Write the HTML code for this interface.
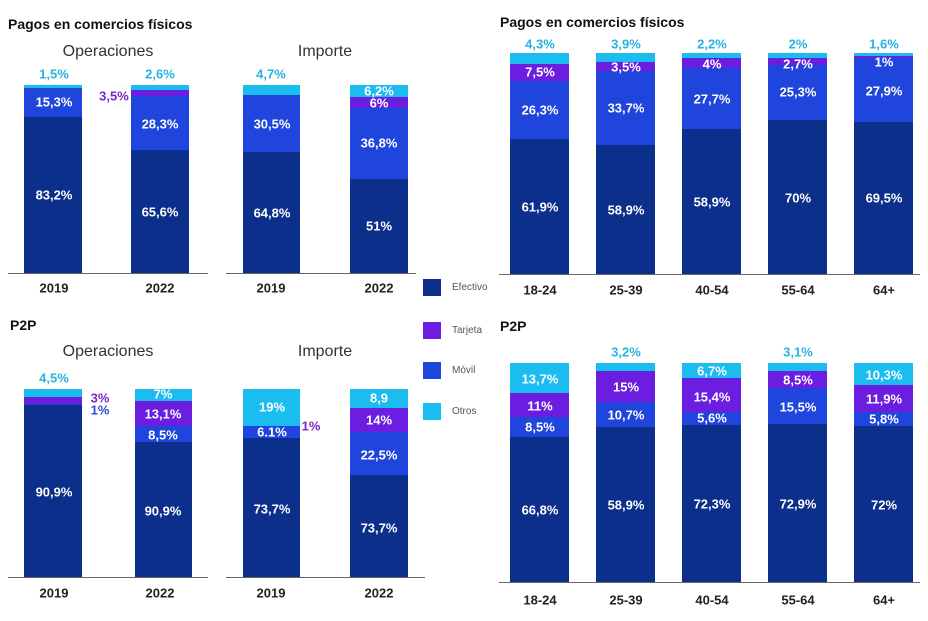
<!DOCTYPE html>
<html><head><meta charset="utf-8"><style>
body{margin:0;width:928px;height:621px;background:#fff;position:relative;overflow:hidden;font-family:"Liberation Sans",Arial,sans-serif}
div{position:absolute}
.d{background:#0b2f8a}.m{background:#1f45dc}.p{background:#6b1de0}.c{background:#1bbcef}
.l{transform:translate(-50%,-50%);font-weight:bold;font-size:13px;color:#fff;white-space:nowrap}
.cy{color:#27b3e3}.pu{color:#7a28c8}.mb{color:#2a4ad8}
.t{font-weight:bold;font-size:14px;color:#111}
.s{transform:translate(-50%,-50%);font-size:16px;color:#333}
.x{transform:translate(-50%,-50%);font-weight:bold;font-size:13px;color:#222}
.ax{height:1px;background:#666}
.lg{width:18px;height:17px;left:423px}
.lt{left:452px;font-size:10px;color:#555}
</style></head><body>
<div class="t" style="left:8px;top:16px">Pagos en comercios físicos</div>
<div class="s" style="left:108px;top:52px">Operaciones</div>
<div class="s" style="left:325px;top:52px">Importe</div>
<!-- TL Op 2019 -->
<div class="c" style="left:24px;width:58px;top:85px;height:3px"></div>
<div class="m" style="left:24px;width:58px;top:88px;height:29px"></div>
<div class="d" style="left:24px;width:58px;top:117px;height:156px"></div>
<!-- TL Op 2022 -->
<div class="c" style="left:131px;width:58px;top:85px;height:5px"></div>
<div class="p" style="left:131px;width:58px;top:90px;height:6px"></div>
<div class="m" style="left:131px;width:58px;top:96px;height:54px"></div>
<div class="d" style="left:131px;width:58px;top:150px;height:123px"></div>
<!-- Imp 2019 -->
<div class="c" style="left:243px;width:57px;top:85px;height:10px"></div>
<div class="m" style="left:243px;width:57px;top:95px;height:57px"></div>
<div class="d" style="left:243px;width:57px;top:152px;height:121px"></div>
<!-- Imp 2022 -->
<div class="c" style="left:350px;width:58px;top:85px;height:12px"></div>
<div class="p" style="left:350px;width:58px;top:97px;height:11px"></div>
<div class="m" style="left:350px;width:58px;top:108px;height:71px"></div>
<div class="d" style="left:350px;width:58px;top:179px;height:94px"></div>
<div class="ax" style="left:8px;width:200px;top:273px"></div>
<div class="ax" style="left:226px;width:190px;top:273px"></div>
<div class="l cy" style="left:54px;top:74px">1,5%</div>
<div class="l cy" style="left:160px;top:74px">2,6%</div>
<div class="l pu" style="left:114px;top:96px">3,5%</div>
<div class="l" style="left:54px;top:102px">15,3%</div>
<div class="l" style="left:54px;top:195px">83,2%</div>
<div class="l" style="left:160px;top:124px">28,3%</div>
<div class="l" style="left:160px;top:212px">65,6%</div>
<div class="l cy" style="left:271px;top:74px">4,7%</div>
<div class="l" style="left:272px;top:124px">30,5%</div>
<div class="l" style="left:272px;top:213px">64,8%</div>
<div class="l" style="left:379px;top:91px">6,2%</div>
<div class="l" style="left:379px;top:103px">6%</div>
<div class="l" style="left:379px;top:143px">36,8%</div>
<div class="l" style="left:379px;top:226px">51%</div>
<div class="x" style="left:54px;top:288px">2019</div>
<div class="x" style="left:160px;top:288px">2022</div>
<div class="x" style="left:271px;top:288px">2019</div>
<div class="x" style="left:379px;top:288px">2022</div>
<!-- legend -->
<div class="lg d" style="top:279px"></div><div class="lt" style="top:282px">Efectivo</div>
<div class="lg p" style="top:322px"></div><div class="lt" style="top:325px">Tarjeta</div>
<div class="lg m" style="top:362px"></div><div class="lt" style="top:365px">Móvil</div>
<div class="lg c" style="top:403px"></div><div class="lt" style="top:406px">Otros</div>
<!-- TR -->
<div class="t" style="left:500px;top:14px">Pagos en comercios físicos</div>
<div class="c" style="left:510px;width:59px;top:53px;height:11px"></div>
<div class="p" style="left:510px;width:59px;top:64px;height:17px"></div>
<div class="m" style="left:510px;width:59px;top:81px;height:58px"></div>
<div class="d" style="left:510px;width:59px;top:139px;height:135px"></div>
<div class="c" style="left:596px;width:59px;top:53px;height:9px"></div>
<div class="p" style="left:596px;width:59px;top:62px;height:9px"></div>
<div class="m" style="left:596px;width:59px;top:71px;height:74px"></div>
<div class="d" style="left:596px;width:59px;top:145px;height:129px"></div>
<div class="c" style="left:682px;width:59px;top:53px;height:5px"></div>
<div class="p" style="left:682px;width:59px;top:58px;height:10px"></div>
<div class="m" style="left:682px;width:59px;top:68px;height:61px"></div>
<div class="d" style="left:682px;width:59px;top:129px;height:145px"></div>
<div class="c" style="left:768px;width:59px;top:53px;height:5px"></div>
<div class="p" style="left:768px;width:59px;top:58px;height:7px"></div>
<div class="m" style="left:768px;width:59px;top:65px;height:55px"></div>
<div class="d" style="left:768px;width:59px;top:120px;height:154px"></div>
<div class="c" style="left:854px;width:59px;top:53px;height:3px"></div>
<div class="p" style="left:854px;width:59px;top:56px;height:2px"></div>
<div class="m" style="left:854px;width:59px;top:58px;height:64px"></div>
<div class="d" style="left:854px;width:59px;top:122px;height:152px"></div>
<div class="ax" style="left:499px;width:421px;top:274px"></div>
<div class="l cy" style="left:540px;top:44px">4,3%</div>
<div class="l cy" style="left:626px;top:44px">3,9%</div>
<div class="l cy" style="left:712px;top:44px">2,2%</div>
<div class="l cy" style="left:798px;top:44px">2%</div>
<div class="l cy" style="left:884px;top:44px">1,6%</div>
<div class="l" style="left:540px;top:72px">7,5%</div>
<div class="l" style="left:540px;top:110px">26,3%</div>
<div class="l" style="left:540px;top:207px">61,9%</div>
<div class="l" style="left:626px;top:67px">3,5%</div>
<div class="l" style="left:626px;top:108px">33,7%</div>
<div class="l" style="left:626px;top:210px">58,9%</div>
<div class="l" style="left:712px;top:64px">4%</div>
<div class="l" style="left:712px;top:99px">27,7%</div>
<div class="l" style="left:712px;top:202px">58,9%</div>
<div class="l" style="left:798px;top:64px">2,7%</div>
<div class="l" style="left:798px;top:92px">25,3%</div>
<div class="l" style="left:798px;top:198px">70%</div>
<div class="l" style="left:884px;top:62px">1%</div>
<div class="l" style="left:884px;top:91px">27,9%</div>
<div class="l" style="left:884px;top:198px">69,5%</div>
<div class="x" style="left:540px;top:290px">18-24</div>
<div class="x" style="left:626px;top:290px">25-39</div>
<div class="x" style="left:712px;top:290px">40-54</div>
<div class="x" style="left:798px;top:290px">55-64</div>
<div class="x" style="left:884px;top:290px">64+</div>
<!-- BL -->
<div class="t" style="left:10px;top:317px">P2P</div>
<div class="s" style="left:108px;top:352px">Operaciones</div>
<div class="s" style="left:325px;top:352px">Importe</div>
<div class="c" style="left:24px;width:58px;top:389px;height:8px"></div>
<div class="p" style="left:24px;width:58px;top:397px;height:7px"></div>
<div class="m" style="left:24px;width:58px;top:404px;height:1px"></div>
<div class="d" style="left:24px;width:58px;top:405px;height:172px"></div>
<div class="c" style="left:135px;width:57px;top:389px;height:12px"></div>
<div class="p" style="left:135px;width:57px;top:401px;height:25px"></div>
<div class="m" style="left:135px;width:57px;top:426px;height:16px"></div>
<div class="d" style="left:135px;width:57px;top:442px;height:135px"></div>
<div class="c" style="left:243px;width:57px;top:389px;height:37px"></div>
<div class="m" style="left:243px;width:57px;top:426px;height:12px"></div>
<div class="d" style="left:243px;width:57px;top:438px;height:139px"></div>
<div class="c" style="left:350px;width:58px;top:389px;height:19px"></div>
<div class="p" style="left:350px;width:58px;top:408px;height:24px"></div>
<div class="m" style="left:350px;width:58px;top:432px;height:43px"></div>
<div class="d" style="left:350px;width:58px;top:475px;height:102px"></div>
<div class="ax" style="left:8px;width:200px;top:577px"></div>
<div class="ax" style="left:226px;width:199px;top:577px"></div>
<div class="l cy" style="left:54px;top:378px">4,5%</div>
<div class="l pu" style="left:100px;top:398px">3%</div>
<div class="l mb" style="left:100px;top:410px">1%</div>
<div class="l" style="left:163px;top:394px">7%</div>
<div class="l" style="left:163px;top:414px">13,1%</div>
<div class="l" style="left:163px;top:435px">8,5%</div>
<div class="l" style="left:54px;top:492px">90,9%</div>
<div class="l" style="left:163px;top:511px">90,9%</div>
<div class="l" style="left:272px;top:407px">19%</div>
<div class="l" style="left:272px;top:432px">6.1%</div>
<div class="l pu" style="left:311px;top:426px">1%</div>
<div class="l" style="left:272px;top:509px">73,7%</div>
<div class="l" style="left:379px;top:398px">8,9</div>
<div class="l" style="left:379px;top:420px">14%</div>
<div class="l" style="left:379px;top:455px">22,5%</div>
<div class="l" style="left:379px;top:528px">73,7%</div>
<div class="x" style="left:54px;top:593px">2019</div>
<div class="x" style="left:160px;top:593px">2022</div>
<div class="x" style="left:271px;top:593px">2019</div>
<div class="x" style="left:379px;top:593px">2022</div>
<!-- BR -->
<div class="t" style="left:500px;top:318px">P2P</div>
<div class="c" style="left:510px;width:59px;top:363px;height:30px"></div>
<div class="p" style="left:510px;width:59px;top:393px;height:24px"></div>
<div class="m" style="left:510px;width:59px;top:417px;height:20px"></div>
<div class="d" style="left:510px;width:59px;top:437px;height:145px"></div>
<div class="c" style="left:596px;width:59px;top:363px;height:8px"></div>
<div class="p" style="left:596px;width:59px;top:371px;height:31px"></div>
<div class="m" style="left:596px;width:59px;top:402px;height:25px"></div>
<div class="d" style="left:596px;width:59px;top:427px;height:155px"></div>
<div class="c" style="left:682px;width:59px;top:363px;height:15px"></div>
<div class="p" style="left:682px;width:59px;top:378px;height:34px"></div>
<div class="m" style="left:682px;width:59px;top:412px;height:13px"></div>
<div class="d" style="left:682px;width:59px;top:425px;height:157px"></div>
<div class="c" style="left:768px;width:59px;top:363px;height:8px"></div>
<div class="p" style="left:768px;width:59px;top:371px;height:17px"></div>
<div class="m" style="left:768px;width:59px;top:388px;height:36px"></div>
<div class="d" style="left:768px;width:59px;top:424px;height:158px"></div>
<div class="c" style="left:854px;width:59px;top:363px;height:22px"></div>
<div class="p" style="left:854px;width:59px;top:385px;height:27px"></div>
<div class="m" style="left:854px;width:59px;top:412px;height:14px"></div>
<div class="d" style="left:854px;width:59px;top:426px;height:156px"></div>
<div class="ax" style="left:499px;width:421px;top:582px"></div>
<div class="l" style="left:540px;top:379px">13,7%</div>
<div class="l" style="left:540px;top:406px">11%</div>
<div class="l" style="left:540px;top:427px">8,5%</div>
<div class="l" style="left:540px;top:510px">66,8%</div>
<div class="l cy" style="left:626px;top:352px">3,2%</div>
<div class="l" style="left:626px;top:387px">15%</div>
<div class="l" style="left:626px;top:415px">10,7%</div>
<div class="l" style="left:626px;top:505px">58,9%</div>
<div class="l" style="left:712px;top:371px">6,7%</div>
<div class="l" style="left:712px;top:397px">15,4%</div>
<div class="l" style="left:712px;top:418px">5,6%</div>
<div class="l" style="left:712px;top:504px">72,3%</div>
<div class="l cy" style="left:798px;top:352px">3,1%</div>
<div class="l" style="left:798px;top:380px">8,5%</div>
<div class="l" style="left:798px;top:407px">15,5%</div>
<div class="l" style="left:798px;top:504px">72,9%</div>
<div class="l" style="left:884px;top:375px">10,3%</div>
<div class="l" style="left:884px;top:399px">11,9%</div>
<div class="l" style="left:884px;top:419px">5,8%</div>
<div class="l" style="left:884px;top:505px">72%</div>
<div class="x" style="left:540px;top:600px">18-24</div>
<div class="x" style="left:626px;top:600px">25-39</div>
<div class="x" style="left:712px;top:600px">40-54</div>
<div class="x" style="left:798px;top:600px">55-64</div>
<div class="x" style="left:884px;top:600px">64+</div>
</body></html>
